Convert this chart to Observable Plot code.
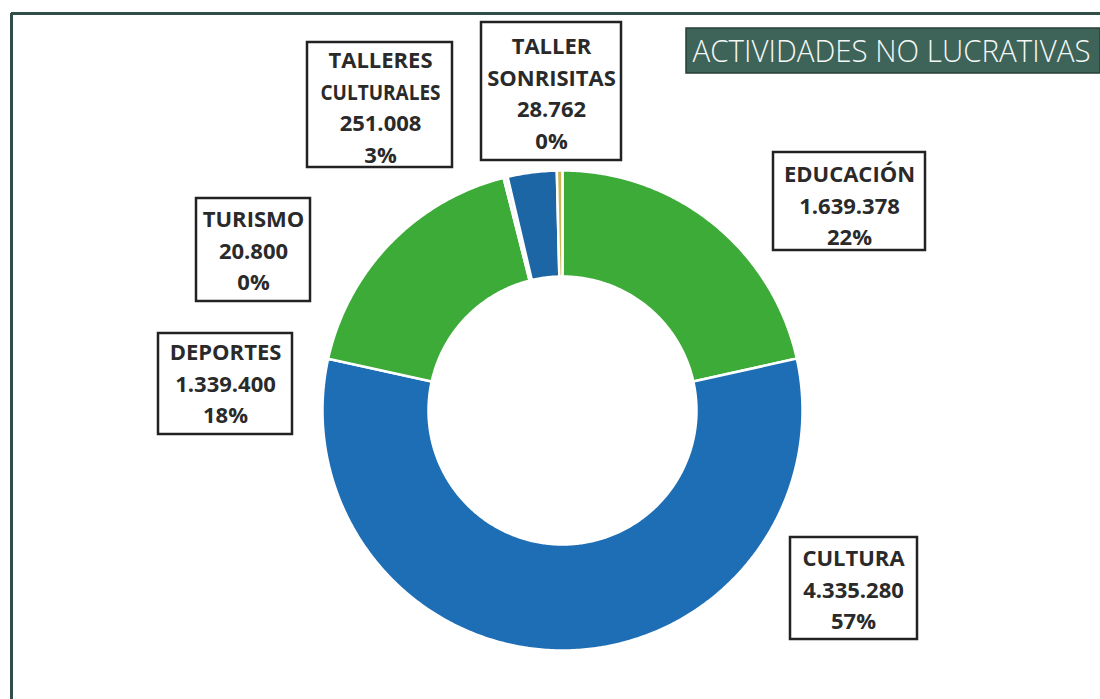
<!DOCTYPE html>
<html><head><meta charset="utf-8">
<script src="https://cdn.jsdelivr.net/npm/d3@7"></script>
<script src="https://cdn.jsdelivr.net/npm/@observablehq/plot@0.6"></script>
<style>body{margin:0;background:#fff;} #chart{width:1100px;height:699px;overflow:hidden;}</style>
</head><body><div id="chart"></div>
<script>
// ---- data ----
const categories = ["EDUCACIÓN","CULTURA","DEPORTES","TURISMO","TALLERES CULTURALES","TALLER SONRISITAS"];
const labelLines = [["EDUCACIÓN"],["CULTURA"],["DEPORTES"],["TURISMO"],["TALLERES","CULTURALES"],["TALLER","SONRISITAS"]];
const values = [1639378, 4335280, 1339400, 20800, 251008, 28762];
const title = "ACTIVIDADES NO LUCRATIVAS";

// ---- styles & layout ----
const sliceColors = ["#3cab38","#1e6eb6","#3cab38","#f2f7f2","#1d66a6","#c9b955"];
const CX = 562, CY = 410, R = 240, RI = 134;
const labelLayout = {
  "EDUCACIÓN":           {x1:773,x2:925,y1:152,y2:250,tx:849,ty:203,maxW:140},
  "CULTURA":             {x1:790,x2:917,y1:537,y2:639,tx:853,ty:587,maxW:120},
  "DEPORTES":            {x1:158,x2:292,y1:333,y2:434,tx:225,ty:381,maxW:125},
  "TURISMO":             {x1:196,x2:310,y1:198,y2:301,tx:253,ty:248,maxW:108},
  "TALLERES CULTURALES": {x1:307,x2:452,y1:42,y2:167,tx:380,ty:105,maxW:120},
  "TALLER SONRISITAS":   {x1:481,x2:621,y1:22,y2:160,tx:551,ty:91,maxW:132}
};
const titleBox = {x1:686,x2:1100,y1:28,y2:73,tx:692,ty:51};

const fmt = d3.formatLocale({decimal:",",thousands:".",grouping:[3],currency:["",""]}).format(",d");
const total = d3.sum(values);

let acc = 0;
const slices = values.map((v,i)=>{
  const a0 = acc/total*2*Math.PI; acc += v; const a1 = acc/total*2*Math.PI;
  return {name:categories[i], a0, a1, color:sliceColors[i]};
});
const pts = [];
for (const s of slices) {
  const n = Math.max(2, Math.ceil((s.a1-s.a0)/0.01));
  for (let k=0;k<=n;k++){const a=s.a0+(s.a1-s.a0)*k/n; pts.push({name:s.name,color:s.color,x:CX+R*Math.sin(a),y:CY-R*Math.cos(a)});}
  for (let k=n;k>=0;k--){const a=s.a0+(s.a1-s.a0)*k/n; pts.push({name:s.name,color:s.color,x:CX+RI*Math.sin(a),y:CY-RI*Math.cos(a)});}
}
const labels = categories.map((c,i)=>({
  ...labelLayout[c],
  text: [...labelLines[i], fmt(values[i]), Math.round(values[i]/total*100)+"%"].join("\n")
}));

const chart = Plot.plot({
  width:1100, height:699, margin:0,
  x:{type:"identity", axis:null}, y:{type:"identity", axis:null}, color:{type:"identity"},
  marks:[
    Plot.ruleX([{x:11}],{x:"x",y1:()=>13,y2:()=>699,stroke:"#2f4f48",strokeWidth:3}),
    Plot.ruleY([{y:13}],{y:"y",x1:()=>11,x2:()=>1100,stroke:"#2f4f48",strokeWidth:3}),
    Plot.rect([titleBox],{x1:"x1",x2:"x2",y1:"y1",y2:"y2",fill:"#3e6359",stroke:"#263f39",strokeWidth:1.5}),
    Plot.text([titleBox],{x:"tx",y:"ty",text:()=>title,textAnchor:"start",fill:"#f4f7f5",fontSize:32,fontFamily:"Open Sans",fontWeight:300}),
    Plot.line(pts,{x:"x",y:"y",z:"name",fill:"color",stroke:"#fff",strokeWidth:2.5,curve:"linear-closed"}),
    Plot.rect(labels,{x1:"x1",x2:"x2",y1:"y1",y2:"y2",fill:"#fff",stroke:"#222",strokeWidth:2.5}),
    Plot.text(labels,{x:"tx",y:"ty",text:"text",fontSize:22,fontWeight:"bold",fontFamily:"'Open Sans', Lato, sans-serif",lineHeight:1.43,fill:"#2a2a2a"})
  ]
});
document.getElementById("chart").appendChild(chart);
for (const t of chart.querySelectorAll("text")) {
  if (t.textContent === title) { t.setAttribute("textLength","398"); t.setAttribute("lengthAdjust","spacingAndGlyphs"); continue; }
  const d = labels.find(l => l.text.replace(/\n/g,"") === t.textContent);
  if (!d) continue;
  for (const sp of t.querySelectorAll("tspan")) {
    const w = sp.getComputedTextLength();
    if (w > d.maxW) { sp.setAttribute("textLength", d.maxW); sp.setAttribute("lengthAdjust","spacingAndGlyphs"); }
  }
}
</script></body></html>
